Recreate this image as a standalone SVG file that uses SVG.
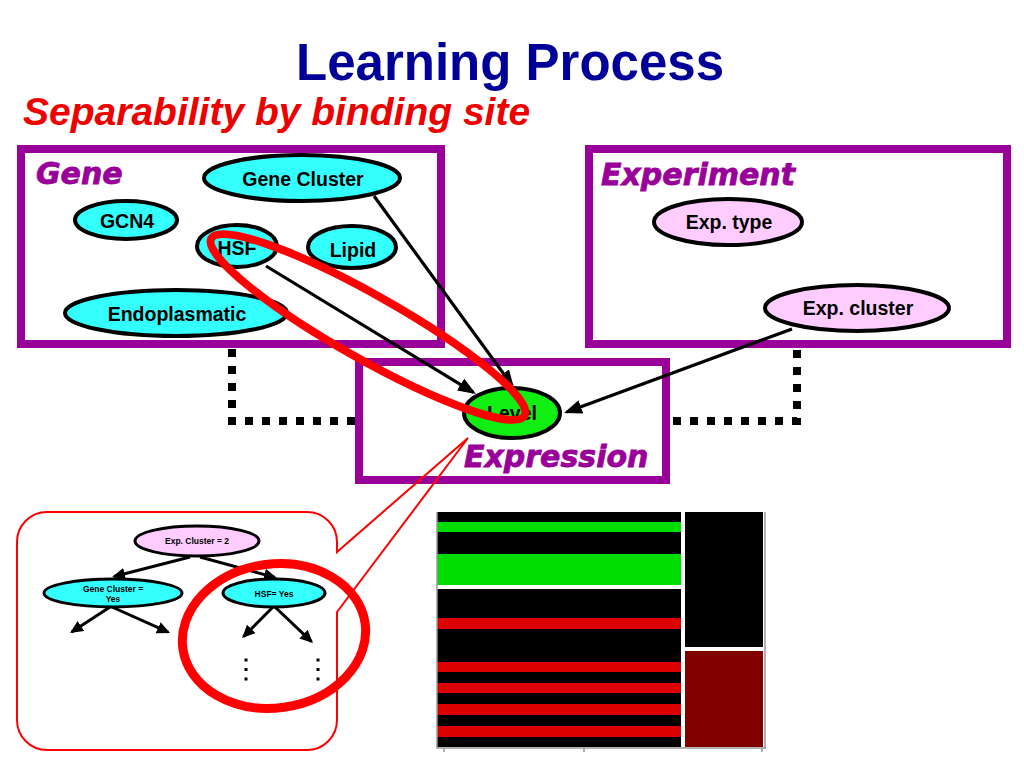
<svg xmlns="http://www.w3.org/2000/svg" width="1024" height="768" viewBox="0 0 1024 768">
<defs>
<style>
.box{fill:none;stroke:#990099;stroke-width:8}
.boxlbl{font-family:"DejaVu Sans",Verdana,sans-serif;font-weight:bold;font-style:italic;font-size:30px;fill:#990099;stroke:#990099;stroke-width:0.8}
.node{stroke:#000;stroke-width:4}
.cyan{fill:#33ffff}
.pink{fill:#ffccff}
.green{fill:#11ee11}
.lbl{font-family:"Liberation Sans",Arial,sans-serif;font-weight:bold;font-size:19.5px;fill:#000;text-anchor:middle}
.tnode{stroke:#000;stroke-width:3}
.tlbl{font-family:"Liberation Sans",Arial,sans-serif;font-weight:bold;font-size:8.5px;fill:#000;text-anchor:middle}
.dot{fill:none;stroke:#000;stroke-width:8;stroke-dasharray:8 9}
.conn{fill:none;stroke:#000;stroke-width:3.2;marker-end:url(#ah)}
.tconn{fill:none;stroke:#000;stroke-width:3;marker-end:url(#ahs)}
.hl{fill:none;stroke:#ff0000;stroke-width:8}
</style>
<marker id="ah" markerUnits="userSpaceOnUse" markerWidth="18" markerHeight="16" refX="15" refY="7" orient="auto">
<path d="M0,0 L18,7 L0,14 z" fill="#000"/>
</marker>
<marker id="ahs" markerUnits="userSpaceOnUse" markerWidth="14" markerHeight="14" refX="11" refY="6" orient="auto">
<path d="M0,0 L13,6 L0,12 z" fill="#000"/>
</marker>
</defs>
<rect width="1024" height="768" fill="#fff"/>

<text x="510" y="80" font-family="Liberation Sans,Arial,sans-serif" font-weight="bold" font-size="51" fill="#000099" text-anchor="middle">Learning Process</text>
<text x="23" y="125" font-family="Liberation Sans,Arial,sans-serif" font-weight="bold" font-style="italic" font-size="39" fill="#ee0000">Separability by binding site</text>

<g id="dotted-links">
<path class="dot" d="M232,349 V421 H356"/>
<path class="dot" d="M673,421 H797 V349"/>
</g>

<g id="gene-box">
<rect class="box" x="21" y="149" width="420" height="195"/>
<text class="boxlbl" x="36" y="184">Gene</text>
</g>
<g id="experiment-box">
<rect class="box" x="589" y="149" width="418" height="195"/>
<text class="boxlbl" x="601" y="185">Experiment</text>
</g>
<g id="expression-box">
<rect class="box" x="359" y="362" width="307" height="118"/>
<text class="boxlbl" x="464" y="467">Expression</text>
</g>

<g id="node-gene-cluster">
<ellipse class="node cyan" cx="302" cy="178" rx="98" ry="23"/>
<text class="lbl" x="303" y="186">Gene Cluster</text>
</g>
<g id="node-gcn4">
<ellipse class="node cyan" cx="126" cy="220" rx="51" ry="19"/>
<text class="lbl" x="127" y="228">GCN4</text>
</g>
<g id="node-hsf">
<ellipse class="node cyan" cx="237" cy="246" rx="40" ry="21"/>
<text class="lbl" x="237" y="255">HSF</text>
</g>
<g id="node-lipid">
<ellipse class="node cyan" cx="352" cy="247" rx="44" ry="21"/>
<text class="lbl" x="353" y="257">Lipid</text>
</g>
<g id="node-endoplasmatic">
<ellipse class="node cyan" cx="176" cy="313" rx="111" ry="23"/>
<text class="lbl" x="177" y="321">Endoplasmatic</text>
</g>
<g id="node-exp-type">
<ellipse class="node pink" cx="728" cy="222" rx="74" ry="23"/>
<text class="lbl" x="729" y="229">Exp. type</text>
</g>
<g id="node-exp-cluster">
<ellipse class="node pink" cx="857" cy="308" rx="92" ry="23"/>
<text class="lbl" x="858" y="315">Exp. cluster</text>
</g>
<g id="node-level">
<ellipse class="node green" cx="512" cy="413" rx="48" ry="25"/>
<text class="lbl" x="512" y="420">Level</text>
</g>

<g id="connectors">
<path class="conn" d="M374,196 L512.2,385.6"/>
<path class="conn" d="M266,266 L473.4,392.4"/>
<path class="conn" d="M792,329 L566.8,412"/>
</g>

<g id="highlight-hsf-level">
<ellipse class="hl" cx="368" cy="327" rx="180" ry="32" transform="rotate(29.5 368 327)"/>
</g>

<g id="callout">
<path d="M47,512 H307 A30,30 0 0 1 337,542 L337,552 L468,438 L337,612 V720 A30,30 0 0 1 307,750 H47 A30,30 0 0 1 17,720 V542 A30,30 0 0 1 47,512 Z" fill="none" stroke="#ff0000" stroke-width="2"/>
</g>

<g id="tree-exp-cluster">
<ellipse class="tnode pink" cx="197" cy="541" rx="62" ry="15"/>
<text class="tlbl" x="197" y="544">Exp. Cluster = 2</text>
</g>
<g id="tree-gene-cluster">
<ellipse class="tnode cyan" cx="113" cy="593" rx="69" ry="14"/>
<text class="tlbl" x="113" y="592">Gene Cluster =</text>
<text class="tlbl" x="113" y="602">Yes</text>
</g>
<g id="tree-hsf">
<ellipse class="tnode cyan" cx="274" cy="593" rx="51" ry="14"/>
<text class="tlbl" x="274" y="597">HSF= Yes</text>
</g>
<g id="tree-connectors">
<path class="tconn" d="M190,557 L114,576.5"/>
<path class="tconn" d="M200,557 L275,577.5"/>
<path class="tconn" d="M110,607 L71.7,632"/>
<path class="tconn" d="M112,607 L168.2,632.2"/>
<path class="tconn" d="M273,607 L243.5,636.7"/>
<path class="tconn" d="M275,607 L311.5,641.7"/>
</g>
<g id="tree-dots" fill="#000">
<rect x="244.5" y="658.5" width="3" height="3"/>
<rect x="244.5" y="668" width="3" height="3"/>
<rect x="244.5" y="677.5" width="3" height="3"/>
<rect x="316.5" y="658.5" width="3" height="3"/>
<rect x="316.5" y="668" width="3" height="3"/>
<rect x="316.5" y="677.5" width="3" height="3"/>
</g>
<g id="highlight-tree">
<ellipse cx="274" cy="636" rx="92" ry="72" fill="none" stroke="#ff0000" stroke-width="9" transform="rotate(-8 274 636)"/>
</g>

<g id="heatmap">
<rect x="437" y="512" width="244" height="73" fill="#000"/>
<rect x="437" y="522" width="244" height="10" fill="#00dd00"/>
<rect x="437" y="554" width="244" height="31" fill="#00dd00"/>
<rect x="437" y="589" width="244" height="158" fill="#000"/>
<rect x="437" y="618" width="244" height="11" fill="#dd0000"/>
<rect x="437" y="662" width="244" height="10" fill="#dd0000"/>
<rect x="437" y="683" width="244" height="10" fill="#dd0000"/>
<rect x="437" y="704" width="244" height="11" fill="#dd0000"/>
<rect x="437" y="726" width="244" height="11" fill="#dd0000"/>
<rect x="685" y="512" width="78" height="135" fill="#000"/>
<rect x="685" y="651" width="78" height="96" fill="#800000"/>
<path d="M437,512 V748 H766 M765,512 V748 M444,748 V752 M584,748 V752 M762,748 V752" fill="none" stroke="#999" stroke-width="1.5"/>
</g>
</svg>
